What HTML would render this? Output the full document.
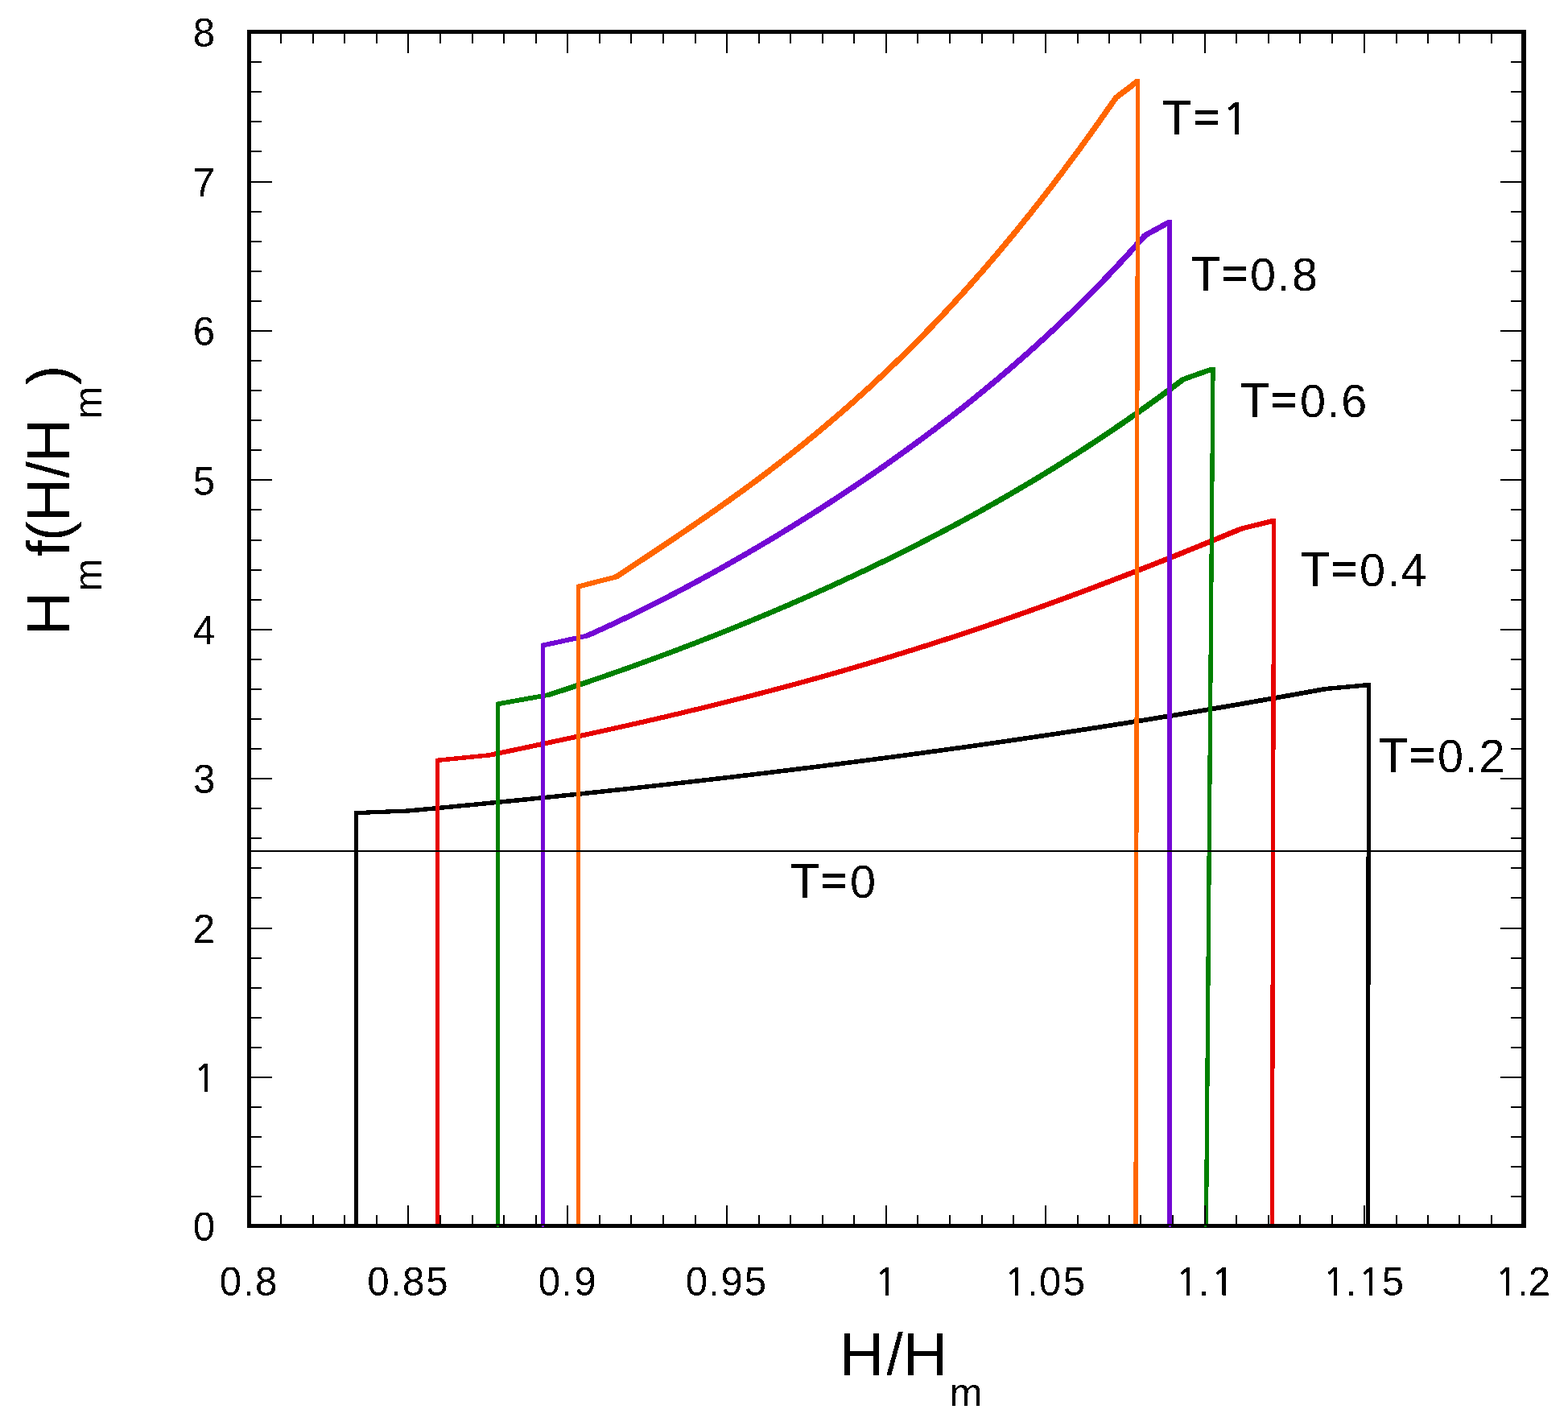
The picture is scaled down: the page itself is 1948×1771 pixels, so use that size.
<!DOCTYPE html>
<html lang="en">
<head>
<meta charset="utf-8">
<title>H_m f(H/H_m) versus H/H_m</title>
<style>
html,body{margin:0;padding:0;background:#fff;}
body{width:1948px;height:1771px;overflow:hidden;}
svg{display:block;}
</style>
</head>
<body>
<svg width="1948" height="1771" viewBox="0 0 1948 1771" role="img" aria-label="Plot of H_m f(H/H_m) versus H/H_m for T = 0, 0.2, 0.4, 0.6, 0.8 and 1">
<rect x="0" y="0" width="1948" height="1771" fill="#fff"/>
<path d="M439.88 1007.10 L445.12 1007.10 L445.12 1524.50 L439.88 1524.50ZM439.88 1007.10 L504.88 1004.48 L510.12 1004.48 L510.12 1009.48 L445.12 1012.10 L439.88 1012.10ZM504.88 1004.48 L517.38 1003.32 L522.62 1003.32 L522.62 1008.32 L510.12 1009.48 L504.88 1009.48ZM517.38 1003.32 L537.38 1001.44 L542.62 1001.44 L542.62 1006.44 L522.62 1008.32 L517.38 1008.32ZM537.38 1001.44 L557.38 999.54 L562.62 999.54 L562.62 1004.54 L542.62 1006.44 L537.38 1006.44ZM557.38 999.54 L577.38 997.61 L582.62 997.61 L582.62 1002.61 L562.62 1004.54 L557.38 1004.54ZM577.38 997.61 L597.38 995.67 L602.62 995.67 L602.62 1000.67 L582.62 1002.61 L577.38 1002.61ZM597.38 995.67 L617.38 993.70 L622.62 993.70 L622.62 998.70 L602.62 1000.67 L597.38 1000.67ZM617.38 993.70 L637.38 991.71 L642.62 991.71 L642.62 996.71 L622.62 998.70 L617.38 998.70ZM637.38 991.71 L657.38 989.69 L662.62 989.69 L662.62 994.69 L642.62 996.71 L637.38 996.71ZM657.38 989.69 L677.38 987.66 L682.62 987.66 L682.62 992.66 L662.62 994.69 L657.38 994.69ZM677.38 987.66 L697.38 985.60 L702.62 985.60 L702.62 990.60 L682.62 992.66 L677.38 992.66ZM697.38 985.60 L717.38 983.51 L722.62 983.51 L722.62 988.51 L702.62 990.60 L697.38 990.60ZM717.38 983.51 L737.38 981.40 L742.62 981.40 L742.62 986.40 L722.62 988.51 L717.38 988.51ZM737.38 981.40 L757.38 979.27 L762.62 979.27 L762.62 984.27 L742.62 986.40 L737.38 986.40ZM757.38 979.27 L777.38 977.10 L782.62 977.10 L782.62 982.10 L762.62 984.27 L757.38 984.27ZM777.38 977.10 L797.38 974.92 L802.62 974.92 L802.62 979.92 L782.62 982.10 L777.38 982.10ZM797.38 974.92 L817.38 972.71 L822.62 972.71 L822.62 977.71 L802.62 979.92 L797.38 979.92ZM817.38 972.71 L837.38 970.47 L842.62 970.47 L842.62 975.47 L822.62 977.71 L817.38 977.71ZM837.38 970.47 L857.38 968.20 L862.62 968.20 L862.62 973.20 L842.62 975.47 L837.38 975.47ZM857.38 968.20 L877.38 965.90 L882.62 965.90 L882.62 970.90 L862.62 973.20 L857.38 973.20ZM877.38 965.90 L897.38 963.58 L902.62 963.58 L902.62 968.58 L882.62 970.90 L877.38 970.90ZM897.38 963.58 L917.38 961.23 L922.62 961.23 L922.62 966.23 L902.62 968.58 L897.38 968.58ZM917.38 961.23 L937.38 958.85 L942.62 958.85 L942.62 963.85 L922.62 966.23 L917.38 966.23ZM937.38 958.85 L957.38 956.44 L962.62 956.44 L962.62 961.44 L942.62 963.85 L937.38 963.85ZM957.38 956.44 L977.38 954.00 L982.62 954.00 L982.62 959.00 L962.62 961.44 L957.38 961.44ZM977.38 954.00 L997.38 951.53 L1002.62 951.53 L1002.62 956.53 L982.62 959.00 L977.38 959.00ZM997.38 951.53 L1017.38 949.04 L1022.62 949.04 L1022.62 954.04 L1002.62 956.53 L997.38 956.53ZM1017.38 949.04 L1037.38 946.51 L1042.62 946.51 L1042.62 951.51 L1022.62 954.04 L1017.38 954.04ZM1037.38 946.51 L1057.38 943.94 L1062.62 943.94 L1062.62 948.94 L1042.62 951.51 L1037.38 951.51ZM1057.38 943.94 L1077.38 941.35 L1082.62 941.35 L1082.62 946.35 L1062.62 948.94 L1057.38 948.94ZM1077.38 941.35 L1097.38 938.73 L1102.62 938.73 L1102.62 943.73 L1082.62 946.35 L1077.38 946.35ZM1097.38 938.73 L1117.38 936.07 L1122.62 936.07 L1122.62 941.07 L1102.62 943.73 L1097.38 943.73ZM1117.38 936.07 L1137.38 933.38 L1142.62 933.38 L1142.62 938.38 L1122.62 941.07 L1117.38 941.07ZM1137.38 933.38 L1157.38 930.66 L1162.62 930.66 L1162.62 935.66 L1142.62 938.38 L1137.38 938.38ZM1157.38 930.66 L1177.38 927.90 L1182.62 927.90 L1182.62 932.90 L1162.62 935.66 L1157.38 935.66ZM1177.38 927.90 L1197.38 925.11 L1202.62 925.11 L1202.62 930.11 L1182.62 932.90 L1177.38 932.90ZM1197.38 925.11 L1217.38 922.28 L1222.62 922.28 L1222.62 927.28 L1202.62 930.11 L1197.38 930.11ZM1217.38 922.28 L1237.38 919.42 L1242.62 919.42 L1242.62 924.42 L1222.62 927.28 L1217.38 927.28ZM1237.38 919.42 L1257.38 916.53 L1262.62 916.53 L1262.62 921.53 L1242.62 924.42 L1237.38 924.42ZM1257.38 916.53 L1277.38 913.60 L1282.62 913.60 L1282.62 918.60 L1262.62 921.53 L1257.38 921.53ZM1277.38 913.60 L1297.38 910.63 L1302.62 910.63 L1302.62 915.63 L1282.62 918.60 L1277.38 918.60ZM1297.38 910.63 L1317.38 907.63 L1322.62 907.63 L1322.62 912.63 L1302.62 915.63 L1297.38 915.63ZM1317.38 907.63 L1337.38 904.58 L1342.62 904.58 L1342.62 909.58 L1322.62 912.63 L1317.38 912.63ZM1337.38 904.58 L1357.38 901.51 L1362.62 901.51 L1362.62 906.51 L1342.62 909.58 L1337.38 909.58ZM1357.38 901.51 L1377.38 898.39 L1382.62 898.39 L1382.62 903.39 L1362.62 906.51 L1357.38 906.51ZM1377.38 898.39 L1397.38 895.24 L1402.62 895.24 L1402.62 900.24 L1382.62 903.39 L1377.38 903.39ZM1397.38 895.24 L1417.38 892.05 L1422.62 892.05 L1422.62 897.05 L1402.62 900.24 L1397.38 900.24ZM1417.38 892.05 L1437.38 888.81 L1442.62 888.81 L1442.62 893.81 L1422.62 897.05 L1417.38 897.05ZM1437.38 888.81 L1457.38 885.54 L1462.62 885.54 L1462.62 890.54 L1442.62 893.81 L1437.38 893.81ZM1457.38 885.54 L1477.38 882.23 L1482.62 882.23 L1482.62 887.23 L1462.62 890.54 L1457.38 890.54ZM1477.38 882.23 L1497.38 878.88 L1502.62 878.88 L1502.62 883.88 L1482.62 887.23 L1477.38 887.23ZM1497.38 878.88 L1517.38 875.49 L1522.62 875.49 L1522.62 880.49 L1502.62 883.88 L1497.38 883.88ZM1517.38 875.49 L1537.38 872.06 L1542.62 872.06 L1542.62 877.06 L1522.62 880.49 L1517.38 880.49ZM1537.38 872.06 L1557.38 868.59 L1562.62 868.59 L1562.62 873.59 L1542.62 877.06 L1537.38 877.06ZM1557.38 868.59 L1577.38 865.07 L1582.62 865.07 L1582.62 870.07 L1562.62 873.59 L1557.38 873.59ZM1577.38 865.07 L1597.38 861.52 L1602.62 861.52 L1602.62 866.52 L1582.62 870.07 L1577.38 870.07ZM1597.38 861.52 L1617.38 857.92 L1622.62 857.92 L1622.62 862.92 L1602.62 866.52 L1597.38 866.52ZM1617.38 857.92 L1644.08 853.05 L1649.33 853.05 L1649.33 858.05 L1622.62 862.92 L1617.38 862.92ZM1644.08 853.05 L1697.88 848.10 L1703.12 848.10 L1703.12 853.10 L1649.33 858.05 L1644.08 858.05ZM1696.78 1519.50 L1697.88 848.10 L1703.12 848.10 L1703.12 853.10 L1702.03 1524.50 L1696.78 1524.50Z" fill="#000000" fill-rule="nonzero" shape-rendering="crispEdges"/>
<path d="M540.88 941.80 L546.12 941.80 L546.12 1524.50 L540.88 1524.50ZM540.88 941.80 L605.77 935.30 L611.02 935.30 L611.02 940.30 L546.12 946.80 L540.88 946.80ZM605.77 935.30 L617.38 932.87 L622.62 932.87 L622.62 937.87 L611.02 940.30 L605.77 940.30ZM617.38 932.87 L637.38 928.66 L642.62 928.66 L642.62 933.66 L622.62 937.87 L617.38 937.87ZM637.38 928.66 L657.38 924.44 L662.62 924.44 L662.62 929.44 L642.62 933.66 L637.38 933.66ZM657.38 924.44 L677.38 920.20 L682.62 920.20 L682.62 925.20 L662.62 929.44 L657.38 929.44ZM677.38 920.20 L697.38 915.92 L702.62 915.92 L702.62 920.92 L682.62 925.20 L677.38 925.20ZM697.38 915.92 L717.38 911.60 L722.62 911.60 L722.62 916.60 L702.62 920.92 L697.38 920.92ZM717.38 911.60 L737.38 907.23 L742.62 907.23 L742.62 912.23 L722.62 916.60 L717.38 916.60ZM737.38 907.23 L757.38 902.81 L762.62 902.81 L762.62 907.81 L742.62 912.23 L737.38 912.23ZM757.38 902.81 L777.38 898.34 L782.62 898.34 L782.62 903.34 L762.62 907.81 L757.38 907.81ZM777.38 898.34 L797.38 893.80 L802.62 893.80 L802.62 898.80 L782.62 903.34 L777.38 903.34ZM797.38 893.80 L817.38 889.19 L822.62 889.19 L822.62 894.19 L802.62 898.80 L797.38 898.80ZM817.38 889.19 L837.38 884.51 L842.62 884.51 L842.62 889.51 L822.62 894.19 L817.38 894.19ZM837.38 884.51 L857.38 879.74 L862.62 879.74 L862.62 884.74 L842.62 889.51 L837.38 889.51ZM857.38 879.74 L877.38 874.90 L882.62 874.90 L882.62 879.90 L862.62 884.74 L857.38 884.74ZM877.38 874.90 L897.38 869.96 L902.62 869.96 L902.62 874.96 L882.62 879.90 L877.38 879.90ZM897.38 869.96 L917.38 864.94 L922.62 864.94 L922.62 869.94 L902.62 874.96 L897.38 874.96ZM917.38 864.94 L937.38 859.81 L942.62 859.81 L942.62 864.81 L922.62 869.94 L917.38 869.94ZM937.38 859.81 L957.38 854.59 L962.62 854.59 L962.62 859.59 L942.62 864.81 L937.38 864.81ZM957.38 854.59 L977.38 849.26 L982.62 849.26 L982.62 854.26 L962.62 859.59 L957.38 859.59ZM977.38 849.26 L997.38 843.83 L1002.62 843.83 L1002.62 848.83 L982.62 854.26 L977.38 854.26ZM997.38 843.83 L1017.38 838.30 L1022.62 838.30 L1022.62 843.30 L1002.62 848.83 L997.38 848.83ZM1017.38 838.30 L1037.38 832.65 L1042.62 832.65 L1042.62 837.65 L1022.62 843.30 L1017.38 843.30ZM1037.38 832.65 L1057.38 826.89 L1062.62 826.89 L1062.62 831.89 L1042.62 837.65 L1037.38 837.65ZM1057.38 826.89 L1077.38 821.01 L1082.62 821.01 L1082.62 826.01 L1062.62 831.89 L1057.38 831.89ZM1077.38 821.01 L1097.38 815.02 L1102.62 815.02 L1102.62 820.02 L1082.62 826.01 L1077.38 826.01ZM1097.38 815.02 L1117.38 808.92 L1122.62 808.92 L1122.62 813.92 L1102.62 820.02 L1097.38 820.02ZM1117.38 808.92 L1137.38 802.70 L1142.62 802.70 L1142.62 807.70 L1122.62 813.92 L1117.38 813.92ZM1137.38 802.70 L1157.38 796.36 L1162.62 796.36 L1162.62 801.36 L1142.62 807.70 L1137.38 807.70ZM1157.38 796.36 L1177.38 789.90 L1182.62 789.90 L1182.62 794.90 L1162.62 801.36 L1157.38 801.36ZM1177.38 789.90 L1197.38 783.32 L1202.62 783.32 L1202.62 788.32 L1182.62 794.90 L1177.38 794.90ZM1197.38 783.32 L1217.38 776.63 L1222.62 776.63 L1222.62 781.63 L1202.62 788.32 L1197.38 788.32ZM1217.38 776.63 L1237.38 769.82 L1242.62 769.82 L1242.62 774.82 L1222.62 781.63 L1217.38 781.63ZM1237.38 769.82 L1257.38 762.90 L1262.62 762.90 L1262.62 767.90 L1242.62 774.82 L1237.38 774.82ZM1257.38 762.90 L1277.38 755.86 L1282.62 755.86 L1282.62 760.86 L1262.62 767.90 L1257.38 767.90ZM1277.38 755.86 L1297.38 748.70 L1302.62 748.70 L1302.62 753.70 L1282.62 760.86 L1277.38 760.86ZM1297.38 748.70 L1317.38 741.44 L1322.62 741.44 L1322.62 746.44 L1302.62 753.70 L1297.38 753.70ZM1317.38 741.44 L1337.38 734.07 L1342.62 734.07 L1342.62 739.07 L1322.62 746.44 L1317.38 746.44ZM1337.38 734.07 L1357.38 726.59 L1362.62 726.59 L1362.62 731.59 L1342.62 739.07 L1337.38 739.07ZM1357.38 726.59 L1377.38 719.00 L1382.62 719.00 L1382.62 724.00 L1362.62 731.59 L1357.38 731.59ZM1377.38 719.00 L1397.38 711.32 L1402.62 711.32 L1402.62 716.32 L1382.62 724.00 L1377.38 724.00ZM1397.38 711.32 L1417.38 703.53 L1422.62 703.53 L1422.62 708.53 L1402.62 716.32 L1397.38 716.32ZM1417.38 703.53 L1437.38 695.66 L1442.62 695.66 L1442.62 700.66 L1422.62 708.53 L1417.38 708.53ZM1437.38 695.66 L1457.38 687.69 L1462.62 687.69 L1462.62 692.69 L1442.62 700.66 L1437.38 700.66ZM1457.38 687.69 L1477.38 679.63 L1482.62 679.63 L1482.62 684.63 L1462.62 692.69 L1457.38 692.69ZM1477.38 679.63 L1497.38 671.50 L1502.62 671.50 L1502.62 676.50 L1482.62 684.63 L1477.38 684.63ZM1497.38 671.50 L1517.38 663.29 L1522.62 663.29 L1522.62 668.29 L1502.62 676.50 L1497.38 676.50ZM1517.38 663.29 L1539.08 654.29 L1544.33 654.29 L1544.33 659.29 L1522.62 668.29 L1517.38 668.29ZM1539.08 654.29 L1579.97 644.10 L1585.22 644.10 L1585.22 649.10 L1544.33 659.29 L1539.08 659.29ZM1577.78 1519.50 L1579.97 644.10 L1585.22 644.10 L1585.22 649.10 L1583.03 1524.50 L1577.78 1524.50Z" fill="#e60000" fill-rule="nonzero" shape-rendering="crispEdges"/>
<path d="M615.88 871.80 L621.12 871.80 L621.12 1524.50 L615.88 1524.50ZM615.88 871.80 L679.38 860.38 L684.62 860.38 L684.62 865.38 L621.12 876.80 L615.88 876.80ZM679.38 860.38 L697.38 854.51 L702.62 854.51 L702.62 859.51 L684.62 865.38 L679.38 865.38ZM697.38 854.51 L717.38 847.87 L722.62 847.87 L722.62 852.87 L702.62 859.51 L697.38 859.51ZM717.38 847.87 L737.38 841.09 L742.62 841.09 L742.62 846.09 L722.62 852.87 L717.38 852.87ZM737.38 841.09 L757.38 834.17 L762.62 834.17 L762.62 839.17 L742.62 846.09 L737.38 846.09ZM757.38 834.17 L777.38 827.11 L782.62 827.11 L782.62 832.11 L762.62 839.17 L757.38 839.17ZM777.38 827.11 L797.38 819.92 L802.62 819.92 L802.62 824.92 L782.62 832.11 L777.38 832.11ZM797.38 819.92 L817.38 812.59 L822.62 812.59 L822.62 817.59 L802.62 824.92 L797.38 824.92ZM817.38 812.59 L837.38 805.12 L842.62 805.12 L842.62 810.12 L822.62 817.59 L817.38 817.59ZM837.38 805.12 L857.38 797.50 L862.62 797.50 L862.62 802.50 L842.62 810.12 L837.38 810.12ZM857.38 797.50 L877.38 789.74 L882.62 789.74 L882.62 794.74 L862.62 802.50 L857.38 802.50ZM877.38 789.74 L897.38 781.83 L902.62 781.83 L902.62 786.83 L882.62 794.74 L877.38 794.74ZM897.38 781.83 L917.38 773.77 L922.62 773.77 L922.62 778.77 L902.62 786.83 L897.38 786.83ZM917.38 773.77 L937.38 765.55 L942.62 765.55 L942.62 770.55 L922.62 778.77 L917.38 778.77ZM937.38 765.55 L957.38 757.16 L962.62 757.16 L962.62 762.16 L942.62 770.55 L937.38 770.55ZM957.38 757.16 L977.38 748.62 L982.62 748.62 L982.62 753.62 L962.62 762.16 L957.38 762.16ZM977.38 748.62 L997.38 739.90 L1002.62 739.90 L1002.62 744.90 L982.62 753.62 L977.38 753.62ZM997.38 739.90 L1017.38 731.01 L1022.62 731.01 L1022.62 736.01 L1002.62 744.90 L997.38 744.90ZM1017.38 731.01 L1037.38 721.94 L1042.62 721.94 L1042.62 726.94 L1022.62 736.01 L1017.38 736.01ZM1037.38 721.94 L1057.38 712.68 L1062.62 712.68 L1062.62 717.68 L1042.62 726.94 L1037.38 726.94ZM1057.38 712.68 L1077.38 703.23 L1082.62 703.23 L1082.62 708.23 L1062.62 717.68 L1057.38 717.68ZM1077.38 703.23 L1097.38 693.58 L1102.62 693.58 L1102.62 698.58 L1082.62 708.23 L1077.38 708.23ZM1097.38 693.58 L1117.38 683.72 L1122.62 683.72 L1122.62 688.72 L1102.62 698.58 L1097.38 698.58ZM1117.38 683.72 L1137.38 673.65 L1142.62 673.65 L1142.62 678.65 L1122.62 688.72 L1117.38 688.72ZM1137.38 673.65 L1157.38 663.36 L1162.62 663.36 L1162.62 668.36 L1142.62 678.65 L1137.38 678.65ZM1157.38 663.36 L1177.38 652.84 L1182.62 652.84 L1182.62 657.84 L1162.62 668.36 L1157.38 668.36ZM1177.38 652.84 L1197.38 642.08 L1202.62 642.08 L1202.62 647.08 L1182.62 657.84 L1177.38 657.84ZM1197.38 642.08 L1217.38 631.07 L1222.62 631.07 L1222.62 636.07 L1202.62 647.08 L1197.38 647.08ZM1217.38 631.07 L1237.38 619.81 L1242.62 619.81 L1242.62 624.81 L1222.62 636.07 L1217.38 636.07ZM1237.38 619.81 L1257.38 608.29 L1262.62 608.29 L1262.62 613.29 L1242.62 624.81 L1237.38 624.81ZM1257.38 608.29 L1277.38 596.49 L1282.62 596.49 L1282.62 601.49 L1262.62 613.29 L1257.38 613.29ZM1277.38 596.49 L1297.38 584.41 L1302.62 584.41 L1302.62 589.41 L1282.62 601.49 L1277.38 601.49ZM1297.38 584.41 L1317.38 572.03 L1322.62 572.03 L1322.62 577.03 L1302.62 589.41 L1297.38 589.41ZM1317.38 572.03 L1337.38 559.35 L1342.62 559.35 L1342.62 564.35 L1322.62 577.03 L1317.38 577.03ZM1337.38 559.35 L1357.38 546.34 L1362.62 546.34 L1362.62 551.34 L1342.62 564.35 L1337.38 564.35ZM1357.38 546.34 L1377.38 533.02 L1382.62 533.02 L1382.62 538.02 L1362.62 551.34 L1357.38 551.34ZM1377.38 533.02 L1397.38 519.35 L1402.62 519.35 L1402.62 524.35 L1382.62 538.02 L1377.38 538.02ZM1397.38 519.35 L1417.38 505.32 L1422.62 505.32 L1422.62 510.32 L1402.62 524.35 L1397.38 524.35ZM1417.38 505.32 L1437.38 490.94 L1442.62 490.94 L1442.62 495.94 L1422.62 510.32 L1417.38 510.32ZM1437.38 490.94 L1457.38 476.17 L1462.62 476.17 L1462.62 481.17 L1442.62 495.94 L1437.38 495.94ZM1457.38 476.17 L1467.38 468.64 L1472.62 468.64 L1472.62 473.64 L1462.62 481.17 L1457.38 481.17ZM1467.38 468.64 L1504.38 455.50 L1509.62 455.50 L1509.62 460.50 L1472.62 473.64 L1467.38 473.64ZM1495.88 1519.50 L1504.38 455.50 L1509.62 455.50 L1509.62 460.50 L1501.12 1524.50 L1495.88 1524.50Z" fill="#008000" fill-rule="nonzero" shape-rendering="crispEdges"/>
<path d="M671.88 799.00 L677.12 799.00 L677.12 1524.50 L671.88 1524.50ZM671.88 799.00 L726.38 787.17 L731.62 787.17 L731.62 792.17 L677.12 804.00 L671.88 804.00ZM726.38 787.17 L737.38 782.27 L742.62 782.27 L742.62 787.27 L731.62 792.17 L726.38 792.17ZM737.38 782.27 L757.38 773.10 L762.62 773.10 L762.62 778.10 L742.62 787.27 L737.38 787.27ZM757.38 773.10 L777.38 763.62 L782.62 763.62 L782.62 768.62 L762.62 778.10 L757.38 778.10ZM777.38 763.62 L797.38 753.85 L802.62 753.85 L802.62 758.85 L782.62 768.62 L777.38 768.62ZM797.38 753.85 L817.38 743.78 L822.62 743.78 L822.62 748.78 L802.62 758.85 L797.38 758.85ZM817.38 743.78 L837.38 733.44 L842.62 733.44 L842.62 738.44 L822.62 748.78 L817.38 748.78ZM837.38 733.44 L857.38 722.83 L862.62 722.83 L862.62 727.83 L842.62 738.44 L837.38 738.44ZM857.38 722.83 L877.38 711.95 L882.62 711.95 L882.62 716.95 L862.62 727.83 L857.38 727.83ZM877.38 711.95 L897.38 700.82 L902.62 700.82 L902.62 705.82 L882.62 716.95 L877.38 716.95ZM897.38 700.82 L917.38 689.43 L922.62 689.43 L922.62 694.43 L902.62 705.82 L897.38 705.82ZM917.38 689.43 L937.38 677.79 L942.62 677.79 L942.62 682.79 L922.62 694.43 L917.38 694.43ZM937.38 677.79 L957.38 665.90 L962.62 665.90 L962.62 670.90 L942.62 682.79 L937.38 682.79ZM957.38 665.90 L977.38 653.75 L982.62 653.75 L982.62 658.75 L962.62 670.90 L957.38 670.90ZM977.38 653.75 L997.38 641.33 L1002.62 641.33 L1002.62 646.33 L982.62 658.75 L977.38 658.75ZM997.38 641.33 L1017.38 628.65 L1022.62 628.65 L1022.62 633.65 L1002.62 646.33 L997.38 646.33ZM1017.38 628.65 L1037.38 615.69 L1042.62 615.69 L1042.62 620.69 L1022.62 633.65 L1017.38 633.65ZM1037.38 615.69 L1057.38 602.45 L1062.62 602.45 L1062.62 607.45 L1042.62 620.69 L1037.38 620.69ZM1057.38 602.45 L1077.38 588.91 L1082.62 588.91 L1082.62 593.91 L1062.62 607.45 L1057.38 607.45ZM1077.38 588.91 L1097.38 575.05 L1102.62 575.05 L1102.62 580.05 L1082.62 593.91 L1077.38 593.91ZM1097.38 575.05 L1117.38 560.87 L1122.62 560.87 L1122.62 565.87 L1102.62 580.05 L1097.38 580.05ZM1117.38 560.87 L1137.38 546.34 L1142.62 546.34 L1142.62 551.34 L1122.62 565.87 L1117.38 565.87ZM1137.38 546.34 L1157.38 531.45 L1162.62 531.45 L1162.62 536.45 L1142.62 551.34 L1137.38 551.34ZM1157.38 531.45 L1177.38 516.18 L1182.62 516.18 L1182.62 521.18 L1162.62 536.45 L1157.38 536.45ZM1177.38 516.18 L1197.38 500.50 L1202.62 500.50 L1202.62 505.50 L1182.62 521.18 L1177.38 521.18ZM1197.38 500.50 L1217.38 484.38 L1222.62 484.38 L1222.62 489.38 L1202.62 505.50 L1197.38 505.50ZM1217.38 484.38 L1237.38 467.81 L1242.62 467.81 L1242.62 472.81 L1222.62 489.38 L1217.38 489.38ZM1237.38 467.81 L1257.38 450.75 L1262.62 450.75 L1262.62 455.75 L1242.62 472.81 L1237.38 472.81ZM1257.38 450.75 L1277.38 433.17 L1282.62 433.17 L1282.62 438.17 L1262.62 455.75 L1257.38 455.75ZM1277.38 433.17 L1297.38 415.05 L1302.62 415.05 L1302.62 420.05 L1282.62 438.17 L1277.38 438.17ZM1297.38 415.05 L1317.38 396.33 L1322.62 396.33 L1322.62 401.33 L1302.62 420.05 L1297.38 420.05ZM1317.38 396.33 L1337.38 377.00 L1342.62 377.00 L1342.62 382.00 L1322.62 401.33 L1317.38 401.33ZM1337.38 377.00 L1357.38 357.02 L1362.62 357.02 L1362.62 362.02 L1342.62 382.00 L1337.38 382.00ZM1357.38 357.02 L1377.38 336.34 L1382.62 336.34 L1382.62 341.34 L1362.62 362.02 L1357.38 362.02ZM1377.38 336.34 L1397.38 314.92 L1402.62 314.92 L1402.62 319.92 L1382.62 341.34 L1377.38 341.34ZM1397.38 314.92 L1419.88 289.88 L1425.12 289.88 L1425.12 294.88 L1402.62 319.92 L1397.38 319.92ZM1419.88 289.88 L1450.38 273.10 L1455.62 273.10 L1455.62 278.10 L1425.12 294.88 L1419.88 294.88ZM1450.38 273.10 L1455.62 273.10 L1455.62 1524.50 L1450.38 1524.50Z" fill="#7308d4" fill-rule="nonzero" shape-rendering="crispEdges"/>
<path d="M715.88 726.00 L721.12 726.00 L721.12 1524.50 L715.88 1524.50ZM715.88 726.00 L762.88 713.91 L768.12 713.91 L768.12 718.91 L721.12 731.00 L715.88 731.00ZM762.88 713.91 L777.38 704.35 L782.62 704.35 L782.62 709.35 L768.12 718.91 L762.88 718.91ZM777.38 704.35 L797.38 691.13 L802.62 691.13 L802.62 696.13 L782.62 709.35 L777.38 709.35ZM797.38 691.13 L817.38 677.85 L822.62 677.85 L822.62 682.85 L802.62 696.13 L797.38 696.13ZM817.38 677.85 L837.38 664.45 L842.62 664.45 L842.62 669.45 L822.62 682.85 L817.38 682.85ZM837.38 664.45 L857.38 650.87 L862.62 650.87 L862.62 655.87 L842.62 669.45 L837.38 669.45ZM857.38 650.87 L877.38 637.08 L882.62 637.08 L882.62 642.08 L862.62 655.87 L857.38 655.87ZM877.38 637.08 L897.38 623.03 L902.62 623.03 L902.62 628.03 L882.62 642.08 L877.38 642.08ZM897.38 623.03 L917.38 608.68 L922.62 608.68 L922.62 613.68 L902.62 628.03 L897.38 628.03ZM917.38 608.68 L937.38 593.99 L942.62 593.99 L942.62 598.99 L922.62 613.68 L917.38 613.68ZM937.38 593.99 L957.38 578.92 L962.62 578.92 L962.62 583.92 L942.62 598.99 L937.38 598.99ZM957.38 578.92 L977.38 563.43 L982.62 563.43 L982.62 568.43 L962.62 583.92 L957.38 583.92ZM977.38 563.43 L997.38 547.50 L1002.62 547.50 L1002.62 552.50 L982.62 568.43 L977.38 568.43ZM997.38 547.50 L1017.38 531.08 L1022.62 531.08 L1022.62 536.08 L1002.62 552.50 L997.38 552.50ZM1017.38 531.08 L1037.38 514.15 L1042.62 514.15 L1042.62 519.15 L1022.62 536.08 L1017.38 536.08ZM1037.38 514.15 L1057.38 496.68 L1062.62 496.68 L1062.62 501.68 L1042.62 519.15 L1037.38 519.15ZM1057.38 496.68 L1077.38 478.65 L1082.62 478.65 L1082.62 483.65 L1062.62 501.68 L1057.38 501.68ZM1077.38 478.65 L1097.38 460.02 L1102.62 460.02 L1102.62 465.02 L1082.62 483.65 L1077.38 483.65ZM1097.38 460.02 L1117.38 440.78 L1122.62 440.78 L1122.62 445.78 L1102.62 465.02 L1097.38 465.02ZM1117.38 440.78 L1137.38 420.90 L1142.62 420.90 L1142.62 425.90 L1122.62 445.78 L1117.38 445.78ZM1137.38 420.90 L1157.38 400.38 L1162.62 400.38 L1162.62 405.38 L1142.62 425.90 L1137.38 425.90ZM1157.38 400.38 L1177.38 379.18 L1182.62 379.18 L1182.62 384.18 L1162.62 405.38 L1157.38 405.38ZM1177.38 379.18 L1197.38 357.30 L1202.62 357.30 L1202.62 362.30 L1182.62 384.18 L1177.38 384.18ZM1197.38 357.30 L1217.38 334.72 L1222.62 334.72 L1222.62 339.72 L1202.62 362.30 L1197.38 362.30ZM1217.38 334.72 L1237.38 311.44 L1242.62 311.44 L1242.62 316.44 L1222.62 339.72 L1217.38 339.72ZM1237.38 311.44 L1257.38 287.43 L1262.62 287.43 L1262.62 292.43 L1242.62 316.44 L1237.38 316.44ZM1257.38 287.43 L1277.38 262.71 L1282.62 262.71 L1282.62 267.71 L1262.62 292.43 L1257.38 292.43ZM1277.38 262.71 L1297.38 237.25 L1302.62 237.25 L1302.62 242.25 L1282.62 267.71 L1277.38 267.71ZM1297.38 237.25 L1317.38 211.07 L1322.62 211.07 L1322.62 216.07 L1302.62 242.25 L1297.38 242.25ZM1317.38 211.07 L1337.38 184.15 L1342.62 184.15 L1342.62 189.15 L1322.62 216.07 L1317.38 216.07ZM1337.38 184.15 L1357.38 156.50 L1362.62 156.50 L1362.62 161.50 L1342.62 189.15 L1337.38 189.15ZM1357.38 156.50 L1383.78 118.89 L1389.03 118.89 L1389.03 123.89 L1362.62 161.50 L1357.38 161.50ZM1383.78 118.89 L1410.97 98.10 L1416.22 98.10 L1416.22 103.10 L1389.03 123.89 L1383.78 123.89ZM1408.38 1519.50 L1410.97 98.10 L1416.22 98.10 L1416.22 103.10 L1413.62 1524.50 L1408.38 1524.50Z" fill="#ff6600" fill-rule="nonzero" shape-rendering="crispEdges"/>
<g fill="#000" shape-rendering="crispEdges">
<rect x="307" y="37" width="1589" height="5"/>
<rect x="307" y="1520" width="1589" height="5"/>
<rect x="307" y="37" width="5" height="1488"/>
<rect x="1890" y="37" width="6" height="1488"/>
</g>
<g fill="#000" shape-rendering="crispEdges">
<rect x="348" y="42" width="2" height="12"/>
<rect x="348" y="1509" width="2" height="11"/>
<rect x="388" y="42" width="2" height="12"/>
<rect x="388" y="1509" width="2" height="11"/>
<rect x="427" y="42" width="2" height="12"/>
<rect x="427" y="1509" width="2" height="11"/>
<rect x="467" y="42" width="2" height="12"/>
<rect x="467" y="1509" width="2" height="11"/>
<rect x="506" y="42" width="2" height="24"/>
<rect x="506" y="1497" width="2" height="23"/>
<rect x="546" y="42" width="2" height="12"/>
<rect x="546" y="1509" width="2" height="11"/>
<rect x="586" y="42" width="2" height="12"/>
<rect x="586" y="1509" width="2" height="11"/>
<rect x="625" y="42" width="2" height="12"/>
<rect x="625" y="1509" width="2" height="11"/>
<rect x="665" y="42" width="2" height="12"/>
<rect x="665" y="1509" width="2" height="11"/>
<rect x="704" y="42" width="2" height="24"/>
<rect x="704" y="1497" width="2" height="23"/>
<rect x="744" y="42" width="2" height="12"/>
<rect x="744" y="1509" width="2" height="11"/>
<rect x="783" y="42" width="2" height="12"/>
<rect x="783" y="1509" width="2" height="11"/>
<rect x="823" y="42" width="2" height="12"/>
<rect x="823" y="1509" width="2" height="11"/>
<rect x="863" y="42" width="2" height="12"/>
<rect x="863" y="1509" width="2" height="11"/>
<rect x="902" y="42" width="2" height="24"/>
<rect x="902" y="1497" width="2" height="23"/>
<rect x="942" y="42" width="2" height="12"/>
<rect x="942" y="1509" width="2" height="11"/>
<rect x="981" y="42" width="2" height="12"/>
<rect x="981" y="1509" width="2" height="11"/>
<rect x="1021" y="42" width="2" height="12"/>
<rect x="1021" y="1509" width="2" height="11"/>
<rect x="1060" y="42" width="2" height="12"/>
<rect x="1060" y="1509" width="2" height="11"/>
<rect x="1100" y="42" width="2" height="24"/>
<rect x="1100" y="1497" width="2" height="23"/>
<rect x="1139" y="42" width="2" height="12"/>
<rect x="1139" y="1509" width="2" height="11"/>
<rect x="1179" y="42" width="2" height="12"/>
<rect x="1179" y="1509" width="2" height="11"/>
<rect x="1219" y="42" width="2" height="12"/>
<rect x="1219" y="1509" width="2" height="11"/>
<rect x="1258" y="42" width="2" height="12"/>
<rect x="1258" y="1509" width="2" height="11"/>
<rect x="1298" y="42" width="2" height="24"/>
<rect x="1298" y="1497" width="2" height="23"/>
<rect x="1338" y="42" width="2" height="12"/>
<rect x="1338" y="1509" width="2" height="11"/>
<rect x="1377" y="42" width="2" height="12"/>
<rect x="1377" y="1509" width="2" height="11"/>
<rect x="1416" y="42" width="2" height="12"/>
<rect x="1416" y="1509" width="2" height="11"/>
<rect x="1456" y="42" width="2" height="12"/>
<rect x="1456" y="1509" width="2" height="11"/>
<rect x="1496" y="42" width="2" height="24"/>
<rect x="1496" y="1497" width="2" height="23"/>
<rect x="1535" y="42" width="2" height="12"/>
<rect x="1535" y="1509" width="2" height="11"/>
<rect x="1575" y="42" width="2" height="12"/>
<rect x="1575" y="1509" width="2" height="11"/>
<rect x="1614" y="42" width="2" height="12"/>
<rect x="1614" y="1509" width="2" height="11"/>
<rect x="1654" y="42" width="2" height="12"/>
<rect x="1654" y="1509" width="2" height="11"/>
<rect x="1694" y="42" width="2" height="24"/>
<rect x="1694" y="1497" width="2" height="23"/>
<rect x="1734" y="42" width="2" height="12"/>
<rect x="1734" y="1509" width="2" height="11"/>
<rect x="1773" y="42" width="2" height="12"/>
<rect x="1773" y="1509" width="2" height="11"/>
<rect x="1812" y="42" width="2" height="12"/>
<rect x="1812" y="1509" width="2" height="11"/>
<rect x="1852" y="42" width="2" height="12"/>
<rect x="1852" y="1509" width="2" height="11"/>
<rect x="312" y="1485" width="13" height="2"/>
<rect x="1877" y="1485" width="13" height="2"/>
<rect x="312" y="1448" width="13" height="2"/>
<rect x="1877" y="1448" width="13" height="2"/>
<rect x="312" y="1411" width="13" height="2"/>
<rect x="1877" y="1411" width="13" height="2"/>
<rect x="312" y="1374" width="13" height="2"/>
<rect x="1877" y="1374" width="13" height="2"/>
<rect x="312" y="1337" width="26" height="2"/>
<rect x="1864" y="1337" width="26" height="2"/>
<rect x="312" y="1300" width="13" height="2"/>
<rect x="1877" y="1300" width="13" height="2"/>
<rect x="312" y="1263" width="13" height="2"/>
<rect x="1877" y="1263" width="13" height="2"/>
<rect x="312" y="1226" width="13" height="2"/>
<rect x="1877" y="1226" width="13" height="2"/>
<rect x="312" y="1189" width="13" height="2"/>
<rect x="1877" y="1189" width="13" height="2"/>
<rect x="312" y="1152" width="26" height="2"/>
<rect x="1864" y="1152" width="26" height="2"/>
<rect x="312" y="1114" width="13" height="2"/>
<rect x="1877" y="1114" width="13" height="2"/>
<rect x="312" y="1077" width="13" height="2"/>
<rect x="1877" y="1077" width="13" height="2"/>
<rect x="312" y="1040" width="13" height="2"/>
<rect x="1877" y="1040" width="13" height="2"/>
<rect x="312" y="1003" width="13" height="2"/>
<rect x="1877" y="1003" width="13" height="2"/>
<rect x="312" y="966" width="26" height="2"/>
<rect x="1864" y="966" width="26" height="2"/>
<rect x="312" y="929" width="13" height="2"/>
<rect x="1877" y="929" width="13" height="2"/>
<rect x="312" y="892" width="13" height="2"/>
<rect x="1877" y="892" width="13" height="2"/>
<rect x="312" y="855" width="13" height="2"/>
<rect x="1877" y="855" width="13" height="2"/>
<rect x="312" y="818" width="13" height="2"/>
<rect x="1877" y="818" width="13" height="2"/>
<rect x="312" y="781" width="26" height="2"/>
<rect x="1864" y="781" width="26" height="2"/>
<rect x="312" y="744" width="13" height="2"/>
<rect x="1877" y="744" width="13" height="2"/>
<rect x="312" y="707" width="13" height="2"/>
<rect x="1877" y="707" width="13" height="2"/>
<rect x="312" y="670" width="13" height="2"/>
<rect x="1877" y="670" width="13" height="2"/>
<rect x="312" y="632" width="13" height="2"/>
<rect x="1877" y="632" width="13" height="2"/>
<rect x="312" y="595" width="26" height="2"/>
<rect x="1864" y="595" width="26" height="2"/>
<rect x="312" y="558" width="13" height="2"/>
<rect x="1877" y="558" width="13" height="2"/>
<rect x="312" y="521" width="13" height="2"/>
<rect x="1877" y="521" width="13" height="2"/>
<rect x="312" y="484" width="13" height="2"/>
<rect x="1877" y="484" width="13" height="2"/>
<rect x="312" y="447" width="13" height="2"/>
<rect x="1877" y="447" width="13" height="2"/>
<rect x="312" y="410" width="26" height="2"/>
<rect x="1864" y="410" width="26" height="2"/>
<rect x="312" y="373" width="13" height="2"/>
<rect x="1877" y="373" width="13" height="2"/>
<rect x="312" y="336" width="13" height="2"/>
<rect x="1877" y="336" width="13" height="2"/>
<rect x="312" y="299" width="13" height="2"/>
<rect x="1877" y="299" width="13" height="2"/>
<rect x="312" y="262" width="13" height="2"/>
<rect x="1877" y="262" width="13" height="2"/>
<rect x="312" y="225" width="26" height="2"/>
<rect x="1864" y="225" width="26" height="2"/>
<rect x="312" y="187" width="13" height="2"/>
<rect x="1877" y="187" width="13" height="2"/>
<rect x="312" y="150" width="13" height="2"/>
<rect x="1877" y="150" width="13" height="2"/>
<rect x="312" y="113" width="13" height="2"/>
<rect x="1877" y="113" width="13" height="2"/>
<rect x="312" y="76" width="13" height="2"/>
<rect x="1877" y="76" width="13" height="2"/>
<rect x="312" y="1056" width="1578" height="2"/>
</g>
<g shape-rendering="crispEdges">
<rect x="617" y="1522" width="3" height="2" fill="#008000"/>
<rect x="673" y="1522" width="3" height="2" fill="#7308d4"/>
<rect x="1452" y="1522" width="3" height="2" fill="#7308d4"/>
<rect x="1496" y="1522" width="3" height="2" fill="#008000"/>
</g>
<defs><filter id="bw" x="-5%" y="-5%" width="110%" height="110%" color-interpolation-filters="sRGB"><feComponentTransfer><feFuncA type="discrete" tableValues="0 1"/></feComponentTransfer></filter></defs>
<g font-family="'Liberation Sans', sans-serif" fill="#000" style="white-space:pre" filter="url(#bw)">
<text y="1608.6"><tspan font-size="49.2" x="272.77 302.22 316.97" y="1608.6">0.8</tspan></text>
<text y="1608.6"><tspan font-size="49.2" x="456.17 485.22 500.02 529.27" y="1608.6">0.85</tspan></text>
<text y="1608.6"><tspan font-size="49.2" x="668.87 697.32 713.13" y="1608.6">0.9</tspan></text>
<text y="1608.6"><tspan font-size="49.2" x="851.77 880.17 895.43 924.72" y="1608.6">0.95</tspan></text>
<text y="1608.6"><tspan font-size="45.8" x="1087.00" y="1608.6" font-family="NanumGothic, 'Liberation Sans', sans-serif" stroke="#000" stroke-width="1">1</tspan></text>
<text y="1608.6"><tspan font-size="45.8" x="1248.00" y="1608.6" font-family="NanumGothic, 'Liberation Sans', sans-serif" stroke="#000" stroke-width="1">1</tspan><tspan font-size="49.2" x="1276.22 1291.12 1320.87" y="1608.6">.05</tspan></text>
<text y="1608.6"><tspan font-size="45.8" x="1460.90" y="1608.6" font-family="NanumGothic, 'Liberation Sans', sans-serif" stroke="#000" stroke-width="1">1</tspan><tspan font-size="49.2" x="1489.12" y="1608.6">.</tspan><tspan font-size="45.8" x="1505.20" y="1608.6" font-family="NanumGothic, 'Liberation Sans', sans-serif" stroke="#000" stroke-width="1">1</tspan></text>
<text y="1608.6"><tspan font-size="45.8" x="1643.60" y="1608.6" font-family="NanumGothic, 'Liberation Sans', sans-serif" stroke="#000" stroke-width="1">1</tspan><tspan font-size="49.2" x="1672.12" y="1608.6">.</tspan><tspan font-size="45.8" x="1688.00" y="1608.6" font-family="NanumGothic, 'Liberation Sans', sans-serif" stroke="#000" stroke-width="1">1</tspan><tspan font-size="49.2" x="1716.82" y="1608.6">5</tspan></text>
<text y="1608.6"><tspan font-size="45.8" x="1857.60" y="1608.6" font-family="NanumGothic, 'Liberation Sans', sans-serif" stroke="#000" stroke-width="1">1</tspan><tspan font-size="49.2" x="1885.17 1898.82" y="1608.6">.2</tspan></text>
<text y="1541.4"><tspan font-size="49.2" x="239.82" y="1541.4">0</tspan></text>
<text y="1356"><tspan font-size="45.8" x="240.60" y="1356" font-family="NanumGothic, 'Liberation Sans', sans-serif" stroke="#000" stroke-width="1">1</tspan></text>
<text y="1170.7"><tspan font-size="49.2" x="239.82" y="1170.7">2</tspan></text>
<text y="985.3"><tspan font-size="49.2" x="239.96" y="985.3">3</tspan></text>
<text y="799.9"><tspan font-size="49.2" x="239.97" y="799.9">4</tspan></text>
<text y="614.5"><tspan font-size="49.2" x="239.87" y="614.5">5</tspan></text>
<text y="429.2"><tspan font-size="49.2" x="239.65" y="429.2">6</tspan></text>
<text y="243.8"><tspan font-size="49.2" x="239.79" y="243.8">7</tspan></text>
<text y="58.4"><tspan font-size="49.2" x="239.82" y="58.4">8</tspan></text>
<text y="166.9"><tspan font-size="61" x="1443.38" y="166.9">T</tspan><tspan font-size="56" x="1482.66" y="164.3" stroke="#000" stroke-width="1.2">=</tspan><tspan font-size="54" x="1518.57" y="166.9" font-family="NanumGothic, 'Liberation Sans', sans-serif" stroke="#000" stroke-width="1">1</tspan></text>
<text y="361"><tspan font-size="61" x="1479.38" y="361">T</tspan><tspan font-size="56" x="1517.66" y="358.4" stroke="#000" stroke-width="1.2">=</tspan><tspan font-size="57.5" x="1553.01 1586.51 1605.01" y="361">0.8</tspan></text>
<text y="518"><tspan font-size="61" x="1540.38" y="518">T</tspan><tspan font-size="56" x="1578.66" y="515.4" stroke="#000" stroke-width="1.2">=</tspan><tspan font-size="57.5" x="1615.01 1648.51 1666.31" y="518">0.6</tspan></text>
<text y="728"><tspan font-size="61" x="1615.38" y="728">T</tspan><tspan font-size="56" x="1653.66" y="725.4" stroke="#000" stroke-width="1.2">=</tspan><tspan font-size="57.5" x="1689.01 1723.51 1740.19" y="728">0.4</tspan></text>
<text y="959"><tspan font-size="61" x="1712.38" y="959">T</tspan><tspan font-size="56" x="1750.66" y="956.4" stroke="#000" stroke-width="1.2">=</tspan><tspan font-size="57.5" x="1786.01 1819.51 1837.51" y="959">0.2</tspan></text>
<text y="1115"><tspan font-size="61" x="981.38" y="1115">T</tspan><tspan font-size="56" x="1019.66" y="1112.4" stroke="#000" stroke-width="1.2">=</tspan><tspan font-size="57.5" x="1056.01" y="1115">0</tspan></text>
<text y="1708"><tspan font-size="75.5" x="1043.22" y="1708">H</tspan><tspan font-size="74" x="1101.17" y="1708">/</tspan><tspan font-size="75.5" x="1122.22" y="1708">H</tspan><tspan font-size="49" x="1179.68" y="1745.9">m</tspan></text>
<text y="86" transform="rotate(-90)"><tspan font-size="75.5" x="-789.08" y="86">H</tspan><tspan font-size="49" x="-734.57" y="125.9">m</tspan><tspan font-size="74" x="-691.56 -671.95" y="86">f(</tspan><tspan font-size="75.5" x="-648.43" y="86">H</tspan><tspan font-size="74" x="-593.83" y="86">/</tspan><tspan font-size="75.5" x="-574.63" y="86">H</tspan><tspan font-size="49" x="-520.47" y="125.9">m</tspan><tspan font-size="74" x="-478.19" y="86">)</tspan></text>
</g>
</svg>
</body>
</html>
